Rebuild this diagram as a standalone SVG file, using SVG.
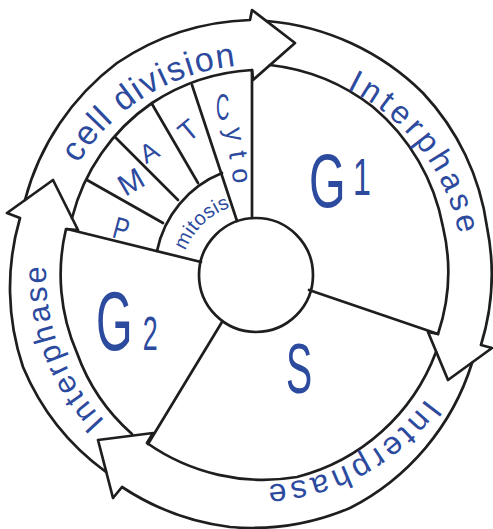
<svg xmlns="http://www.w3.org/2000/svg" width="493" height="529" viewBox="0 0 493 529">
<style>
.ln{fill:none;stroke:#1e1e1e;stroke-width:2.7;stroke-linecap:round;stroke-linejoin:round}
.lb{fill:#2c4a9e;font-family:"Liberation Sans","DejaVu Sans",sans-serif}
</style>
<defs>
<path id="tp-celldiv" d="M78.1,163.7 A210,210 0 0 1 237.7,65.8"/>
<path id="tp-right" d="M346.7,88.9 A207,207 0 0 1 459.2,235.5"/>
<path id="tp-bottom" d="M425.9,398.4 A210,210 0 0 1 263.3,484.9"/>
<path id="tp-left" d="M104.9,420.9 A210,210 0 0 1 46.3,264.0"/>
<path id="tp-mitosis" d="M185.6,251.0 A72,72 0 0 1 233.5,206.6"/>
</defs>
<rect width="493" height="529" fill="#ffffff"/>

<g id="connectors">
  <path id="arrow-cell-division" class="ln" d="M25,200 A252,252 0 0 1 117,63 A252,252 0 0 1 250,20 L252,10 L295,43 L253,80 L252,70 A203,203 0 0 0 152,103 A198,198 0 0 0 72,218"/>
  <path id="arrow-interphase-right" class="ln" d="M267,21 A252,252 0 0 1 423,93 A245,245 0 0 1 487,227 A240,240 0 0 1 481,345 L492,348 L448,380 L428,332 L438,334 A195,195 0 0 0 443,227 A205,205 0 0 0 373,107 A205,205 0 0 0 270,65"/>
  <path id="arrow-interphase-bottom" class="ln" d="M472,363 A245,245 0 0 1 350,508 A252,252 0 0 1 230,527 A252,252 0 0 1 122,487 L113,498 L98,440 L153,433 L147,443 A202,202 0 0 0 297,477 A202,202 0 0 0 436,352"/>
  <path id="arrow-interphase-left" class="ln" d="M106,472 A248,248 0 0 1 23,367 A248,248 0 0 1 20,218 L7,213 L53,180 L78,230 L66,229 A196,196 0 0 0 77,353 A196,196 0 0 0 132,434"/>
</g>

<g id="arrow-labels">
  <text class="lb" font-size="34"><textPath href="#tp-celldiv" textLength="192" lengthAdjust="spacing">cell division</textPath></text>
  <text class="lb" font-size="32"><textPath href="#tp-right" textLength="190" lengthAdjust="spacing">Interphase</textPath></text>
  <text class="lb" font-size="32"><textPath href="#tp-bottom" textLength="186" lengthAdjust="spacing">Interphase</textPath></text>
  <text class="lb" font-size="31"><textPath href="#tp-left" textLength="170" lengthAdjust="spacing">Interphase</textPath></text>
</g>

<g id="center">
  <circle class="ln" cx="256" cy="275" r="57"/>
</g>

<g id="G1">
  <path class="ln" d="M252,218 L252,70"/>
  <path class="ln" d="M309,290 L438,334"/>
  <text class="lb" transform="translate(309,207) scale(0.62,1)" font-size="76">G<tspan font-size="52" dx="12" dy="-12">1</tspan></text>
</g>

<g id="S">
  <path class="ln" d="M222,322 L148,444"/>
  <text class="lb" transform="translate(286,393) scale(0.56,1)" font-size="70">S</text>
</g>

<g id="G2">
  <path class="ln" d="M67,229 L201,262"/>
  <text class="lb" transform="translate(96,350) scale(0.56,1)" font-size="84">G<tspan font-size="48" dx="18">2</tspan></text>
</g>

<g id="mitosis">
  <path class="ln" d="M157,251 A107,107 0 0 1 222,173"/>
  <text class="lb" font-size="20"><textPath href="#tp-mitosis" textLength="64" lengthAdjust="spacing">mitosis</textPath></text>
</g>

<g id="prophase">
  <path class="ln" d="M87,180 L163,223"/>
  <text class="lb" transform="translate(111,237) rotate(15) scale(0.75,1)" font-size="31">P</text>
</g>

<g id="metaphase">
  <path class="ln" d="M115,137 L178,200"/>
  <text class="lb" transform="translate(131,182) rotate(-30)" font-size="30" text-anchor="middle" y="10">M</text>
</g>

<g id="anaphase">
  <path class="ln" d="M152,104 L198,183"/>
  <text class="lb" transform="translate(149,152) rotate(-30)" font-size="26" text-anchor="middle" y="9">A</text>
</g>

<g id="telophase">
  <path class="ln" d="M192,85 L237,221"/>
  <text class="lb" transform="translate(188,130) rotate(-40)" font-size="28" text-anchor="middle" y="10">T</text>
</g>

<g id="cytokinesis">
  <text class="lb" transform="translate(216,120) scale(0.5,1)" font-size="37">C</text>
  <text class="lb" transform="translate(225,129) rotate(81)" font-size="27" textLength="56" lengthAdjust="spacing">yto</text>
</g>
</svg>
